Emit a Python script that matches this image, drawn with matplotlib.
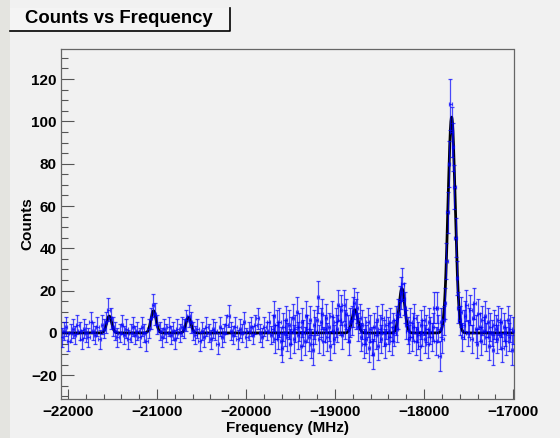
import numpy as np
import matplotlib
matplotlib.use("Agg")
import matplotlib.pyplot as plt
from matplotlib.patches import Rectangle
from matplotlib.lines import Line2D
from matplotlib.ticker import MultipleLocator

plt.rcParams['font.family'] = ['Liberation Sans', 'DejaVu Sans']
plt.rcParams['font.weight'] = 'bold'

# ---- data ----
title = "Counts vs Frequency"
xlabel = "Frequency (MHz)"
ylabel = "Counts"

# left (sparser) scan: start, step
left_start, left_step = -22070, 25
left_counts = [
    -2, 1, 3, -4, 0, 2, -1, 4, 1, -3,
    2, 0, -2, 5, 1, -1, 3, -3, 4, 2,
    5, 11, 7, 3, 1, -2, 0, 4, -1, 2,
    -3, 0, 3, -1, 1, -2, 3, 0, -4, 2,
    7, 13, 9, 4, 1, -2, 2, 0, 3, -1,
    1, -3, 2, 0, 3, 2, 6, 8, 5, 1,
    -1, 2, -4, 1, -2, 3, 0, -3, 2, 1,
    -5, 3, -2, 0, 4, 8, 1, -1, 3, -3,
    2, 0, 5, -2, 1, 3, -1, 4, 7, 0,
    -2, 3, 1, 5, -1,
]
# right (denser) scan
right_start, right_step = -19700, 15
right_counts = [
    2, 8, -3, 4, -1, 5, -4, -7, 3, 0,
    6, -2, 4, -5, 1, 7, -3, 2, 10, -1,
    3, -6, 5, 0, -4, 8, 2, -2, 6, -5,
    -8, 4, 1, 6, 17, -3, 5, 9, -4, 2,
    7, -2, 3, -6, 8, 1, -3, 5, 2, 13,
    6, 11, -1, 13, 4, 9, 2, -4, 5, 6,
    10, 14, 9, 12, 3, 7, -2, 4, -5, 1,
    -3, 5, -7, 2, -4, -10, 3, -1, 6, -6,
    2, -3, 7, 0, -5, 4, 1, -2, 5, -4,
    3, 0, 6, 2, 9, 15, 19, 23, 16, 12,
    4, 1, -3, 5, -2, 3, 7, -4, 2, -1,
    -6, 4, 0, 6, -3, 2, -5, 5, 1, -2,
    3, 12, -4, 12, 2, -11, 5, -3, 6, 14,
    34, 57, 80, 108, 95, 88, 69, 45, 26, 12,
    6, 10, -2, 4, 8, 13, 0, 5, 11, -3,
    7, 14, 2, -5, 9, 3, -4, 6, 1, 8,
    -2, 5, -6, 3, 0, -8, 4, 2, -3, 6,
    -1, 5, -7, 3, 0, -4, 6, -2, 2, -8, 1,
]
left_bkg = 18
right_bkg = 40
x_halfwidth = 14

# fit: gaussian peaks
peak_centers = [-21537, -21039, -20647, -18777, -18249, -17691]
peak_amps = [8, 10.5, 7.5, 11, 21, 102]
peak_sigmas = [28, 29, 28, 32, 32, 40]

xticks = [-22000, -21000, -20000, -19000, -18000, -17000]
yticks = [-20, 0, 20, 40, 60, 80, 100, 120]
xlim = (-22078, -16996)
ylim = (-31.2, 134.2)

# ---- build arrays ----
xl = left_start + left_step * np.arange(len(left_counts))
xr = right_start + right_step * np.arange(len(right_counts))
x = np.concatenate([xl, xr])
y = np.array(left_counts + right_counts, dtype=float)
yerr = np.concatenate([np.sqrt(np.abs(left_counts) + left_bkg),
                       np.sqrt(np.abs(right_counts) + right_bkg)])

W, H = 560, 438
fig = plt.figure(figsize=(W / 100, H / 100), dpi=100)
bg = '#f1f1f1'
fig.patch.set_facecolor(bg)
fig.add_artist(Rectangle((0, 0), 10 / W, 1, transform=fig.transFigure,
                         facecolor='#e4e4e0', edgecolor='none', zorder=0))

L, R, T, B = 61, 513.5, 49, 399
ax = fig.add_axes([L / W, 1 - B / H, (R - L) / W, (B - T) / H])
ax.set_facecolor(bg)

xf = np.linspace(xlim[0], xlim[1], 3000)
yf = np.zeros_like(xf)
for c, a, s in zip(peak_centers, peak_amps, peak_sigmas):
    yf += a * np.exp(-0.5 * ((xf - c) / s) ** 2)
ax.plot(xf, yf, color='black', lw=2.0, zorder=2)

ax.errorbar(x, y, yerr=yerr, xerr=x_halfwidth, fmt='none', ecolor='#0000ff',
            elinewidth=0.9, capsize=1.3, capthick=0.9, alpha=0.7, zorder=3)

ax.set_xlim(*xlim)
ax.set_ylim(*ylim)
ax.set_xticks(xticks)
ax.set_yticks(yticks)
ax.xaxis.set_minor_locator(MultipleLocator(200))
ax.yaxis.set_minor_locator(MultipleLocator(5))
ax.tick_params(axis='both', which='both', direction='in', color='#555555',
               width=0.8, labelsize=11, top=False, right=False)
ax.tick_params(axis='y', which='major', length=9.7, pad=3)
ax.tick_params(axis='y', which='minor', length=5)
ax.tick_params(axis='x', which='major', length=7.5, pad=4)
ax.tick_params(axis='x', which='minor', length=3.8)
for lab in ax.get_xticklabels() + ax.get_yticklabels():
    lab.set_fontweight('bold')
for sp in ax.spines.values():
    sp.set_color('#666666')
    sp.set_linewidth(0.9)

ax.set_xlabel(xlabel, fontsize=11, fontweight='bold', va='center')
ax.xaxis.set_label_coords(0.5, (B - 428) / (B - T))
ax.set_ylabel(ylabel, fontsize=11, fontweight='bold', va='center')
ax.yaxis.set_label_coords((27 - L) / (R - L), 0.5)

# title box
bx0, bx1, by0, by1 = 10, 230, 8, 31
fig.add_artist(Rectangle((bx0 / W, 1 - by1 / H), (bx1 - bx0) / W, (by1 - by0) / H,
                         transform=fig.transFigure, facecolor='#f4f4f4',
                         edgecolor='none', zorder=1))
fig.add_artist(Line2D([bx0 / W, bx1 / W, bx1 / W],
                      [1 - by1 / H, 1 - by1 / H, 1 - by0 / H],
                      transform=fig.transFigure, color='black', lw=1.2, zorder=2))
fig.text(119 / W, 1 - 18.5 / H, title, ha='center', va='center',
         fontsize=13.3, fontweight='bold', zorder=3)

fig.savefig('out.png', dpi=100, facecolor=fig.get_facecolor())
